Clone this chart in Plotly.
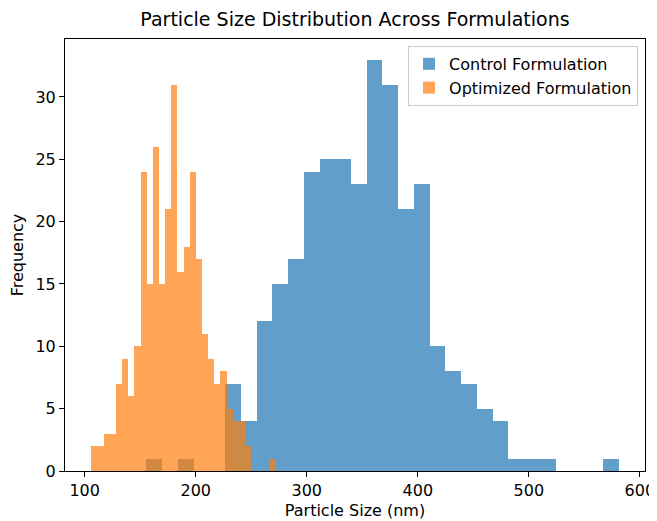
import numpy as np
import plotly.graph_objects as go

# Histogram data (30 bins each)
control_bin_start = 155.5
control_bin_end = 580.9
control_counts = [1, 0, 1, 0, 0, 7, 4, 12, 15, 17, 24, 25, 25, 23, 33,
                  31, 21, 23, 10, 8, 7, 5, 4, 1, 1, 1, 0, 0, 0, 1]

optimized_bin_start = 106.0
optimized_bin_end = 272.0
optimized_counts = [2, 2, 3, 3, 7, 9, 6, 10, 24, 15, 26, 15, 21, 31, 16,
                    18, 24, 17, 11, 9, 7, 8, 5, 4, 4, 2, 0, 0, 0, 1]

x_ticks = [100, 200, 300, 400, 500, 600]
y_ticks = [0, 5, 10, 15, 20, 25, 30]


def centers(start, end, n):
    edges = np.linspace(start, end, n + 1)
    return (edges[:-1] + edges[1:]) / 2, edges[1] - edges[0]


cx, cw = centers(control_bin_start, control_bin_end, len(control_counts))
ox, ow = centers(optimized_bin_start, optimized_bin_end, len(optimized_counts))

fig = go.Figure()
fig.add_trace(go.Bar(
    x=cx, y=control_counts, width=cw, name="Control Formulation",
    marker=dict(color="#1f77b4", line=dict(width=0)), opacity=0.7,
))
fig.add_trace(go.Bar(
    x=ox, y=optimized_counts, width=ow, name="Optimized Formulation",
    marker=dict(color="#ff7f0e", line=dict(width=0)), opacity=0.7,
))

lo = min(optimized_bin_start, control_bin_start)
hi = max(optimized_bin_end, control_bin_end)
pad = 0.05 * (hi - lo)
ymax = max(max(control_counts), max(optimized_counts)) * 1.05

# page body has an 8px default margin; size the figure to compensate
W, H = 649, 513
font = "DejaVu Sans, Arial, sans-serif"
fig.update_layout(
    width=W, height=H,
    margin=dict(l=57, r=12, t=31, b=50, autoexpand=False),
    paper_bgcolor="white", plot_bgcolor="white",
    barmode="overlay", bargap=0,
    font=dict(family=font, size=16, color="#000000"),
    title=dict(text="Particle Size Distribution Across Formulations",
               x=0.5, xref="paper", xanchor="center",
               y=1 - 11 / H, yref="container", yanchor="middle",
               font=dict(size=19, family=font, color="#000000"),
               automargin=False),
    showlegend=True,
    legend=dict(x=0.988, y=0.984, xanchor="right", yanchor="top",
                bgcolor="rgba(255,255,255,0.8)", bordercolor="#cccccc",
                borderwidth=1, font=dict(size=16, family=font),
                traceorder="normal", itemwidth=30),
    xaxis=dict(range=[lo - pad, hi + pad], tickvals=x_ticks,
               showgrid=False, zeroline=False, showline=True, mirror=True,
               linecolor="black", linewidth=1, ticks="outside", ticklen=5,
               tickcolor="black", automargin=True,
               tickfont=dict(size=16, family=font),
               title=dict(text="Particle Size (nm)", standoff=5,
                          font=dict(size=16, family=font))),
    yaxis=dict(range=[0, ymax], tickvals=y_ticks,
               showgrid=False, zeroline=False, showline=True, mirror=True,
               linecolor="black", linewidth=1, ticks="outside", ticklen=5,
               tickcolor="black", automargin=True,
               tickfont=dict(size=16, family=font),
               title=dict(text="Frequency", standoff=8,
                          font=dict(size=16, family=font))),
)

fig.write_html("out.html")
